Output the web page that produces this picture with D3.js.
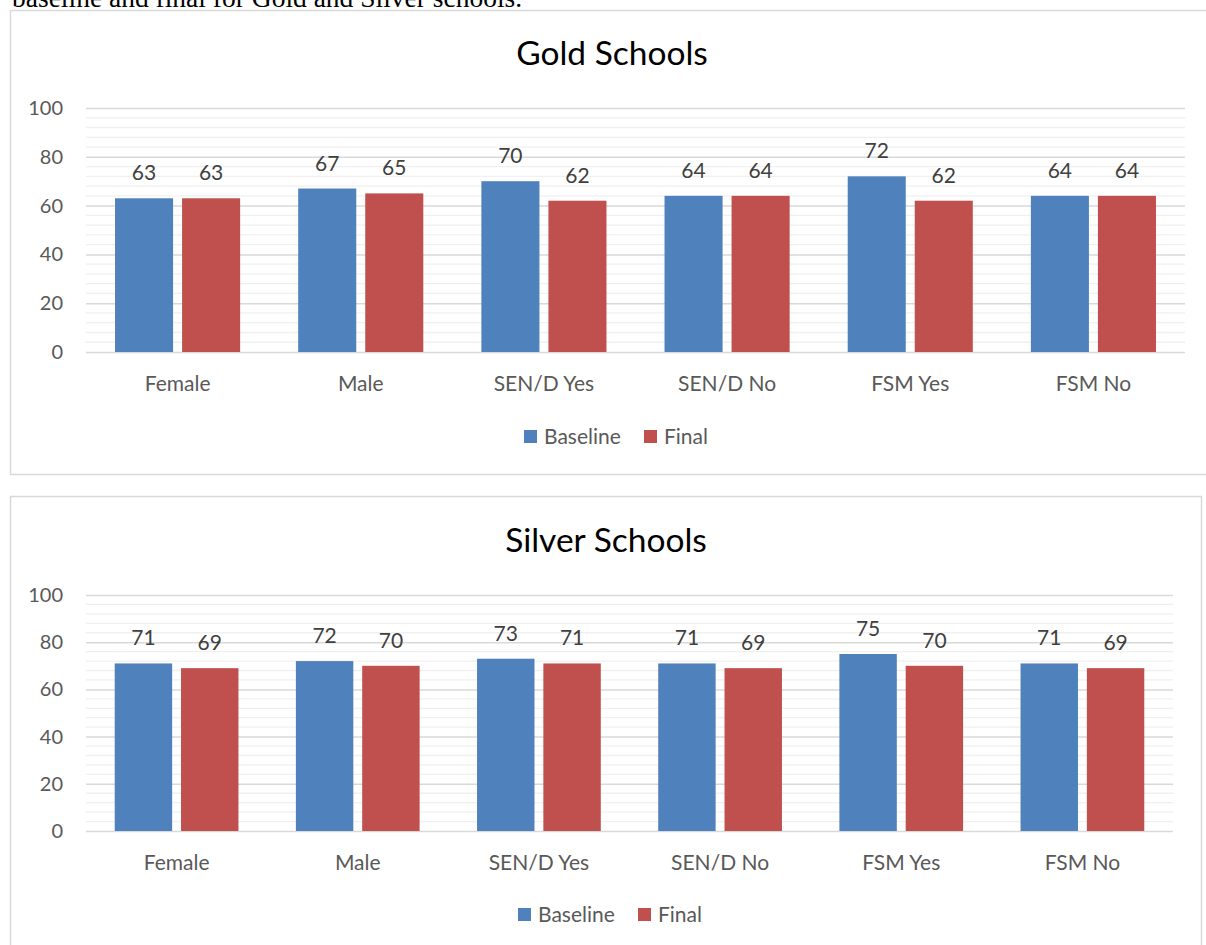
<!DOCTYPE html>
<html>
<head>
<meta charset="utf-8">
<script src="https://cdn.jsdelivr.net/npm/d3@7"></script>
<style>
  html, body { margin: 0; padding: 0; background: #ffffff; }
  svg { display: block; }
  text { font-family: Lato, "Noto Sans", sans-serif; }
</style>
</head>
<body>
<svg id="page" width="1206" height="945"></svg>
<script>
// Attainment by pupil group, baseline vs final
const categories = ["Female", "Male", "SEN/D Yes", "SEN/D No", "FSM Yes", "FSM No"];
const seriesNames = ["Baseline", "Final"];
const goldBaseline = [63, 67, 70, 64, 72, 64];
const goldFinal    = [63, 65, 62, 64, 62, 64];
const silverBaseline = [71, 72, 73, 71, 75, 71];
const silverFinal    = [69, 70, 71, 69, 70, 69];
const yTicks = [0, 20, 40, 60, 80, 100];
const colors = { Baseline: "#4f81bd", Final: "#c0504d" };

const svg = d3.select("#page");

// Caption line from the surrounding document
svg.append("text")
  .attr("x", 12).attr("y", 7)
  .style("font-family", "'Liberation Serif', 'Times New Roman', serif")
  .style("font-size", "27.5px")
  .attr("fill", "#000")
  .text("baseline and final for Gold and Silver schools.");

function drawChart(cfg) {
  const g = svg.append("g");

  // chart frame
  g.append("rect")
    .attr("x", cfg.frame[0]).attr("y", cfg.frame[1])
    .attr("width", cfg.frame[2]).attr("height", cfg.frame[3])
    .attr("fill", "#fff").attr("stroke", "#d9d9d9").attr("stroke-width", 1.5);

  const y = d3.scaleLinear().domain([0, 100]).range([cfg.bottom, cfg.top]);
  const x0 = d3.scaleBand().domain(categories).range([cfg.left, cfg.right])
    .paddingInner(0.317).paddingOuter(0.1585);
  const x1 = d3.scaleBand().domain(seriesNames).range([0, x0.bandwidth()])
    .paddingInner(0.134);

  // minor gridlines every 4
  const minor = d3.range(0, 101, 4).filter(v => v % 20 !== 0);
  g.append("g").selectAll("line").data(minor).join("line")
    .attr("x1", cfg.left).attr("x2", cfg.right)
    .attr("y1", d => y(d)).attr("y2", d => y(d))
    .attr("stroke", "#f0f0f0").attr("stroke-width", 1.3);

  // major gridlines + tick labels via axis
  const axis = g.append("g")
    .attr("transform", `translate(${cfg.left},0)`)
    .call(d3.axisLeft(y).tickValues(yTicks).tickSize(-(cfg.right - cfg.left)).tickPadding(23));
  axis.select(".domain").remove();
  axis.selectAll(".tick line").attr("stroke", "#d9d9d9").attr("stroke-width", 1.5);
  axis.selectAll(".tick text")
    .attr("fill", "#595959")
    .style("font-size", "20px")
    .style("font-family", "Lato, 'Noto Sans', sans-serif");

  const rows = categories.map((c, i) => ({
    cat: c,
    vals: [{ s: "Baseline", v: cfg.base[i] }, { s: "Final", v: cfg.fin[i] }]
  }));

  const groups = g.append("g").selectAll("g").data(rows).join("g")
    .attr("transform", d => `translate(${x0(d.cat)},0)`);

  groups.selectAll("rect").data(d => d.vals).join("rect")
    .attr("x", d => x1(d.s))
    .attr("width", x1.bandwidth())
    .attr("y", d => y(d.v))
    .attr("height", d => y(0) - y(d.v))
    .attr("fill", d => colors[d.s]);

  groups.selectAll("text").data(d => d.vals).join("text")
    .attr("x", d => x1(d.s) + x1.bandwidth() / 2)
    .attr("y", d => y(d.v) - 18)
    .attr("text-anchor", "middle")
    .attr("fill", "#404040")
    .style("font-size", "21px")
    .text(d => d.v);

  // category labels
  const xAxis = g.append("g")
    .attr("transform", `translate(0,${cfg.bottom})`)
    .call(d3.axisBottom(x0).tickSize(0).tickPadding(24));
  xAxis.select(".domain").remove();
  xAxis.selectAll(".tick text")
    .attr("fill", "#595959")
    .style("font-size", "21px")
    .style("font-family", "Lato, 'Noto Sans', sans-serif");

  // title
  g.append("text")
    .attr("x", cfg.cx).attr("y", cfg.titleY)
    .attr("text-anchor", "middle")
    .attr("fill", "#000")
    .style("font-size", "33.5px")
    .text(cfg.title);

  // legend
  const leg = g.append("g").attr("transform", `translate(${cfg.cx},${cfg.legendY})`);
  const legOffsets = { Baseline: -88, Final: 32 };
  seriesNames.forEach(s => {
    leg.append("rect")
      .attr("x", legOffsets[s]).attr("y", -7)
      .attr("width", 13).attr("height", 13)
      .attr("fill", colors[s]);
    leg.append("text")
      .attr("x", legOffsets[s] + 20).attr("y", 7)
      .attr("fill", "#595959")
      .style("font-size", "21px")
      .text(s);
  });
}

drawChart({
  title: "Gold Schools",
  frame: [10.5, 10.5, 1220, 464],
  left: 86, right: 1185, top: 108, bottom: 352,
  cx: 612, titleY: 65, legendY: 437,
  base: goldBaseline, fin: goldFinal
});

drawChart({
  title: "Silver Schools",
  frame: [10.5, 496.5, 1191, 520],
  left: 86, right: 1173, top: 595, bottom: 831,
  cx: 606, titleY: 552, legendY: 915,
  base: silverBaseline, fin: silverFinal
});
</script>
</body>
</html>
